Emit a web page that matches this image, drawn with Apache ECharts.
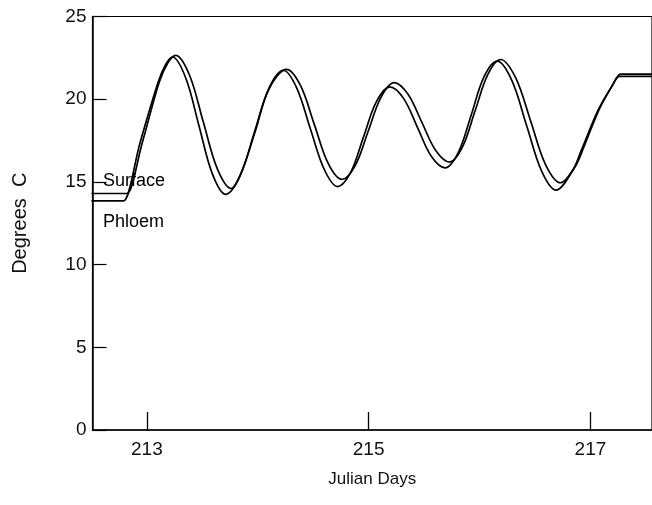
<!DOCTYPE html>
<html>
<head>
<meta charset="utf-8">
<script src="https://cdn.jsdelivr.net/npm/echarts@6/dist/echarts.min.js"></script>
<style>
html,body{margin:0;padding:0;background:#fff;}
#chart{width:652px;height:505px;}
</style>
</head>
<body>
<div id="chart"></div>
<script>
// Julian day / temperature readings (deg C)
var surfaceDays = [212.50, 212.81, 212.82, 212.96, 213.11, 213.19, 213.26,
  213.385, 213.51, 213.635, 213.76,
  213.85, 213.975, 214.10, 214.26,
  214.385, 214.51, 214.635, 214.76,
  214.88, 214.995, 215.11, 215.23,
  215.355, 215.48, 215.605, 215.73,
  215.845, 215.96, 216.075, 216.19,
  216.325, 216.46, 216.595, 216.73,
  216.86, 216.94, 217.08, 217.20, 217.27, 217.28, 217.56];
var surfaceTemps = [14.3, 14.3, 14.3, 17.4, 21.0, 22.2, 22.65,
  21.45, 18.6, 15.8, 14.6,
  15.55, 18.0, 20.6, 21.8,
  20.83, 18.48, 16.12, 15.15,
  16.0, 18.05, 20.1, 21.0,
  20.3, 18.6, 16.9, 16.2,
  17.1, 19.3, 21.5, 22.4,
  21.3, 18.7, 16.05, 14.95,
  15.9, 17.1, 19.4, 20.85, 21.52, 21.52, 21.52];

var phloemDays = [212.50, 212.78, 212.79, 212.94, 213.10, 213.17, 213.23,
  213.35, 213.47, 213.59, 213.71,
  213.84, 213.97, 214.10, 214.23,
  214.35, 214.475, 214.60, 214.72,
  214.84, 214.955, 215.07, 215.19,
  215.315, 215.44, 215.565, 215.69,
  215.81, 215.925, 216.04, 216.16,
  216.29, 216.425, 216.56, 216.69,
  216.84, 216.92, 217.07, 217.19, 217.26, 217.27, 217.56];
var phloemTemps = [13.85, 13.85, 13.85, 17.4, 21.0, 22.1, 22.55,
  21.3, 18.4, 15.5, 14.25,
  15.35, 18.0, 20.65, 21.75,
  20.7, 18.2, 15.75, 14.72,
  15.6, 17.75, 19.85, 20.75,
  20.05, 18.3, 16.55, 15.85,
  16.8, 19.05, 21.35, 22.3,
  21.15, 18.4, 15.65, 14.5,
  15.7, 16.95, 19.35, 20.75, 21.38, 21.38, 21.38];

var xTickValues = [213, 215, 217];
var seriesNames = ['Surface', 'Phloem'];

function zip(xs, ys) {
  var out = [];
  for (var i = 0; i < xs.length; i++) out.push([xs[i], ys[i]]);
  return out;
}

var chart = echarts.init(document.getElementById('chart'));
var font = 'Liberation Sans, Arial, sans-serif';
chart.setOption({
  animation: false,
  backgroundColor: '#fff',
  grid: {left: 92.5, right: -3, top: 16.5, bottom: 75, show: true,
         borderColor: '#000', borderWidth: 1.2, backgroundColor: 'transparent'},
  xAxis: {
    type: 'value', min: 212.51, max: 217.555,
    name: 'Julian Days', nameLocation: 'middle', nameGap: 41,
    nameTextStyle: {fontFamily: font, fontSize: 17, color: '#111'},
    axisLine: {show: true, lineStyle: {color: '#000', width: 1.5}},
    axisTick: {show: true, inside: true, length: 18, customValues: xTickValues,
               lineStyle: {color: '#000', width: 1.3}},
    axisLabel: {customValues: xTickValues, margin: 10, fontFamily: font,
                fontSize: 19, color: '#111'},
    splitLine: {show: false}
  },
  yAxis: {
    type: 'value', min: 0, max: 25, interval: 5,
    name: 'Degrees  C', nameLocation: 'middle', nameGap: 62, nameRotate: 90,
    nameTextStyle: {fontFamily: font, fontSize: 20, color: '#111'},
    axisLine: {show: true, lineStyle: {color: '#000', width: 1.5}},
    axisTick: {show: true, inside: true, length: 14, lineStyle: {color: '#000', width: 1.2}},
    axisLabel: {margin: 6, fontFamily: font, fontSize: 19, color: '#111'},
    splitLine: {show: false}
  },
  graphic: [
    {type: 'text', left: 103, top: 172, style: {text: seriesNames[0], font: '18px ' + font, fill: '#000'}},
    {type: 'text', left: 103, top: 213, style: {text: seriesNames[1], font: '18px ' + font, fill: '#000'}}
  ],
  series: [
    {name: seriesNames[0], type: 'line', data: zip(surfaceDays, surfaceTemps),
     smooth: 0.35, showSymbol: false, lineStyle: {color: '#000', width: 1.7}},
    {name: seriesNames[1], type: 'line', data: zip(phloemDays, phloemTemps),
     smooth: 0.35, showSymbol: false, lineStyle: {color: '#000', width: 1.7}}
  ]
});
</script>
</body>
</html>
